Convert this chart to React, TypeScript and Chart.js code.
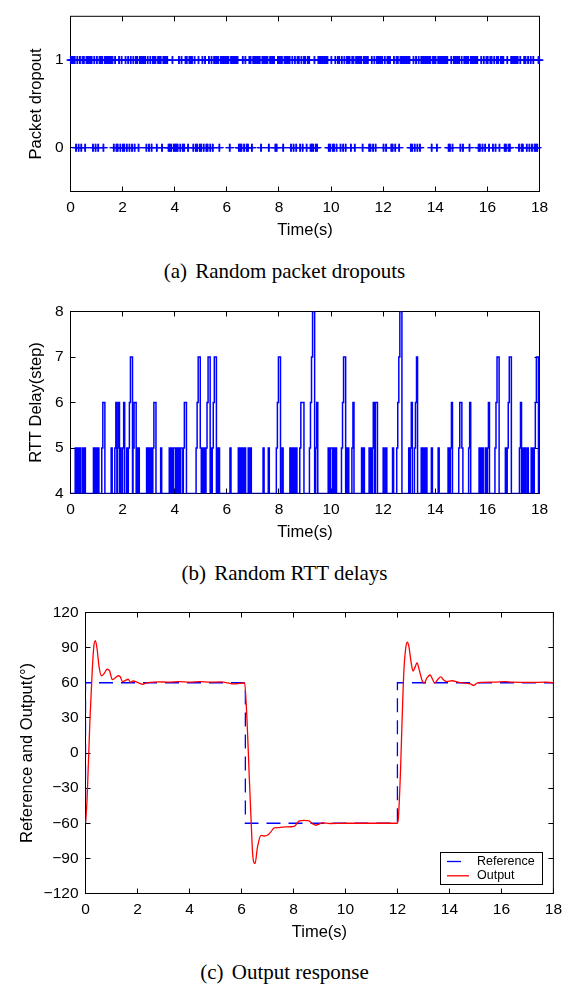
import React, { useEffect, useRef } from "react";
import { Chart, registerables } from "chart.js";

Chart.register(...registerables);

const W = 569;
const SANS = '"Liberation Sans", Arial, Helvetica, sans-serif';
const SERIF = '"Liberation Serif", "Times New Roman", Times, serif';
const BLUE = "#0000ff";
const RED = "#ff0000";

// ---------------- shared time axis ----------------
const timeMin = 0;
const timeMax = 18;
const timeTicks = [0, 2, 4, 6, 8, 10, 12, 14, 16, 18];

// ---------------- (a) packet dropouts ----------------
const dropoutSamplePeriod = 0.025;
const dropoutSlot = 0.05;
const dropoutYMin = -0.5;
const dropoutYMax = 1.5;
const dropoutYTicks = [0, 1];
// start of each 0.05 s slot in which packets were dropped (value 0); all other samples are 1
const dropoutZeroTimes = [
  0.2, 0.3, 0.4, 0.55,
  0.85, 0.95, 1.05, 1.25,
  1.65, 1.75, 1.8, 1.9, 2.0, 2.05, 2.15, 2.25, 2.35, 2.45, 2.6,
  2.9, 3.0, 3.1, 3.3, 3.5,
  3.75, 3.8, 3.85, 3.95, 4.0, 4.05, 4.1, 4.2, 4.3, 4.35, 4.5,
  4.7, 4.8, 4.85, 4.95, 5.0, 5.1, 5.2, 5.25, 5.35, 5.45, 5.7,
  6.1,
  6.45, 6.5, 6.55, 6.65, 6.75, 6.8, 6.95,
  7.3, 7.6,
  7.85, 7.9, 8.15,
  8.45, 8.55, 8.65, 8.8, 8.9, 9.05,
  9.2, 9.25, 9.3, 9.4, 9.45,
  9.9, 9.95, 10.05, 10.1, 10.2,
  10.35, 10.45, 10.55,
  10.75, 10.9,
  11.2,
  11.45, 11.5, 11.6, 11.7,
  12.0, 12.1,
  12.3, 12.35, 12.45, 12.6,
  13.05, 13.1, 13.2, 13.3, 13.4,
  13.85, 14.05,
  14.5, 14.55, 14.65,
  14.95, 15.05,
  15.3,
  15.65, 15.7, 15.8, 15.9, 16.05,
  16.2, 16.3, 16.45,
  16.65, 16.7, 16.8, 16.85,
  17.2, 17.3, 17.35, 17.5, 17.6, 17.7,
  17.8, 17.85, 17.9,
];

// ---------------- (b) RTT delays ----------------
const rttSamplePeriod = 0.04;
const rttBase = 4;
const rttYMin = 4;
const rttYMax = 8;
const rttYTicks = [4, 5, 6, 7, 8];
// start time (s) of each excursion above the base delay
const rttPulseStarts = [
  0.18, 0.27, 0.36, 0.47, 0.53, 0.88, 0.96, 1.05, 1.2, 1.56,
  1.7, 1.8, 1.9, 2.0, 2.16, 2.22, 2.4, 2.54, 2.6, 2.92,
  2.99, 3.08, 3.46, 3.79, 4.33, 4.82, 5.2, 5.38, 5.44, 5.62,
  5.68, 6.12, 6.44, 6.5, 6.56, 6.62, 6.68, 6.82, 6.9, 7.39,
  7.59, 7.9, 8.12, 8.42, 8.5, 8.57, 8.65, 8.8, 9.17, 9.41,
  9.89, 10.4, 10.58, 10.64, 10.8, 11.17, 11.24, 11.46, 11.52, 11.58,
  11.7, 12.0, 12.1, 12.36, 12.52, 12.98, 13.04, 13.2, 13.46, 13.52,
  13.58, 13.64, 13.85, 14.11, 14.49, 14.58, 14.9, 15.28, 15.68, 15.74,
  15.8, 15.92, 16.0, 16.29, 16.69, 16.76, 17.23, 17.35, 17.43, 17.53,
  17.68, 17.74, 17.8,
];
// delay (steps) of the successive samples of each excursion
const rttPulseLevels = [
  [5], [5], [5], [5], [5], [5], [5], [5], [5, 6, 6], [5],
  [5, 6], [5, 6], [5], [5, 6], [5], [5, 6, 7, 7], [5, 6, 6], [5], [5], [5],
  [5], [5, 4, 5, 6, 6], [5], [5, 4, 5, 4, 5, 5, 4, 5, 4, 5, 4, 5, 5], [5, 6, 6], [5, 6, 7, 7, 5, 4, 5, 4, 5], [5, 6, 7, 7], [5], [5, 6, 7, 7], [5],
  [5], [5], [5], [5], [5], [5], [5], [5], [5], [5],
  [5], [5, 6, 7, 7], [5], [5], [5], [5], [5], [5, 6, 6, 6], [5, 6, 7, 8, 8], [5, 6],
  [5, 4, 5, 5, 4, 5, 4, 5], [5, 6, 7, 7], [5], [5], [5, 6], [5], [5], [5], [5], [5, 6],
  [6, 6], [5], [5], [5], [5, 6, 7, 8, 8], [5], [5, 6], [5, 6, 7], [5], [5],
  [5], [5], [5], [5], [5], [5, 6], [5, 6, 6, 5], [5, 6], [5], [5],
  [5], [5], [5, 6], [5, 6, 7, 7], [5], [5, 6, 7, 7], [5, 6], [5], [5], [5],
  [5], [5], [5, 6, 7, 7],
];

// ---------------- (c) output response ----------------
const outYMin = -120;
const outYMax = 120;
const outYTicks = [-120, -90, -60, -30, 0, 30, 60, 90, 120];
const refTimes = [0, 0, 6.15, 6.15, 12, 12, 18];
const refValues = [-60, 60, 60, -60, -60, 60, 60];
const outTimes = [
  0, 0.06, 0.17, 0.26, 0.32, 0.38, 0.45, 0.52, 0.61, 0.74,
  0.83, 0.93, 1.03, 1.14, 1.25, 1.34, 1.42, 1.54, 1.64, 1.73,
  1.83, 2.02, 2.21, 2.3, 2.47, 2.8, 3.2, 3.6, 4.0, 4.4,
  4.8, 5.2, 5.54, 5.67, 5.93, 6.12, 6.18, 6.24, 6.3, 6.37,
  6.43, 6.52, 6.62, 6.75, 6.87, 7.0, 7.13, 7.26, 7.45, 7.71,
  8.03, 8.16, 8.22, 8.41, 8.6, 8.73, 8.86, 8.96, 9.11, 9.4,
  10.0, 11.0, 12.0, 12.04, 12.12, 12.18, 12.25, 12.31, 12.38, 12.44,
  12.53, 12.6, 12.69, 12.75, 12.84, 12.94, 13.03, 13.13, 13.26, 13.35,
  13.43, 13.56, 13.67, 13.78, 13.9, 14.1, 14.36, 14.62, 14.81, 14.93,
  15.06, 15.25, 15.76, 16.14, 16.4, 17.17, 17.68, 18.0,
];
const outValues = [
  -60, -40, 28, 71, 91, 96, 88, 74, 66, 68.6,
  71.7, 69.9, 62.6, 64, 66, 65, 61, 62, 63, 60.4,
  61.5, 60.1, 58.7, 59.6, 60.4, 60.8, 60.5, 60.9, 60.6, 60.9,
  60.5, 60.7, 59.6, 59, 59.5, 60, 43, 14, -20, -57,
  -86, -94.5, -80, -70.3, -70.9, -70.3, -67.4, -64, -63.7, -63.1,
  -62.6, -59.4, -58, -57.5, -58, -60.3, -61.7, -61, -59.6, -60.2,
  -60, -60, -60, -54.6, -14.6, 28.3, 71, 88, 94.6, 91,
  77, 70, 74, 77, 71, 62.6, 59.7, 64, 66.6, 63,
  59.7, 63, 65, 62.3, 61, 61.7, 60.3, 59.6, 59, 57.7,
  59.6, 60.3, 60.6, 61, 60.5, 60.3, 60.5, 60,
];

// ---------------- helpers ----------------
const fmt = (v: any) => {
  const n = Number(v);
  return n < 0 ? "\u2212" + Math.abs(n) : String(n);
};

type Box = {
  canvasTop: number;
  canvasHeight: number;
  left: number;
  right: number;
  top: number;
  bottom: number;
  yTitleX: number;
};

const boxA: Box = { canvasTop: 0, canvasHeight: 250, left: 70.5, right: 539.5, top: 9.5, bottom: 191.5, yTitleX: 36.5 };
const boxB: Box = { canvasTop: 290, canvasHeight: 260, left: 70.5, right: 539.5, top: 311.5, bottom: 493.5, yTitleX: 36.5 };
const boxC: Box = { canvasTop: 595, canvasHeight: 355, left: 85.5, right: 554.5, top: 612.5, bottom: 893.5, yTitleX: 27 };

const TICK_SIZE = 15.5;
const TITLE_SIZE = 16.5;

const framePlugin = {
  id: "matlabFrame",
  beforeDatasetsDraw(chart: any) {
    const { ctx, chartArea: a, scales } = chart;
    const tl = 5;
    const snap = (p: number) => Math.round(p - 0.5) + 0.5;
    ctx.save();
    ctx.strokeStyle = "#000";
    ctx.lineWidth = 1;
    ctx.strokeRect(a.left, a.top, a.right - a.left, a.bottom - a.top);
    ctx.beginPath();
    for (const t of scales.x.ticks) {
      const px = snap(scales.x.getPixelForValue(t.value));
      ctx.moveTo(px, a.bottom);
      ctx.lineTo(px, a.bottom - tl);
      ctx.moveTo(px, a.top);
      ctx.lineTo(px, a.top + tl);
    }
    for (const t of scales.y.ticks) {
      const py = snap(scales.y.getPixelForValue(t.value));
      ctx.moveTo(a.left, py);
      ctx.lineTo(a.left + tl, py);
      ctx.moveTo(a.right, py);
      ctx.lineTo(a.right - tl, py);
    }
    ctx.stroke();
    ctx.restore();
  },
};

const legendPlugin = {
  id: "boxLegend",
  afterDraw(chart: any) {
    const { ctx, chartArea: a } = chart;
    const x0 = Math.round(a.right - 113) + 0.5;
    const y0 = Math.round(a.bottom - 42) + 0.5;
    const w = 102;
    const h = 32;
    ctx.save();
    ctx.fillStyle = "#fff";
    ctx.fillRect(x0, y0, w, h);
    ctx.strokeStyle = "#000";
    ctx.lineWidth = 1;
    ctx.strokeRect(x0, y0, w, h);
    chart.data.datasets.forEach((ds: any, i: number) => {
      const y = y0 + 9 + i * 14.3;
      ctx.strokeStyle = ds.borderColor;
      ctx.lineWidth = ds.borderWidth;
      ctx.setLineDash(ds.borderDash || []);
      ctx.beginPath();
      ctx.moveTo(x0 + 6.5, y);
      ctx.lineTo(x0 + 28.5, y);
      ctx.stroke();
      ctx.setLineDash([]);
      ctx.fillStyle = "#000";
      ctx.font = `12.5px ${SANS}`;
      ctx.textAlign = "left";
      ctx.textBaseline = "middle";
      ctx.fillText(ds.label, x0 + 36.5, y);
    });
    ctx.restore();
  },
};

function makeOptions(box: Box, yTitle: string, yMin: number, yMax: number, yTicks: number[]) {
  const tickFont = { family: SANS, size: TICK_SIZE };
  const titleFont = { family: SANS, size: TITLE_SIZE };
  const titleLH = TITLE_SIZE * 1.2;
  const xAxisH = box.canvasTop + box.canvasHeight - box.bottom;
  return {
    animation: false,
    responsive: false,
    maintainAspectRatio: false,
    events: [],
    layout: {
      padding: { left: 0, top: box.top - box.canvasTop, right: W - box.right, bottom: 0 },
    },
    plugins: {
      legend: { display: false },
      tooltip: { enabled: false },
    },
    scales: {
      x: {
        type: "linear",
        min: timeMin,
        max: timeMax,
        afterBuildTicks: (s: any) => {
          s.ticks = timeTicks.map((v) => ({ value: v }));
        },
        ticks: { color: "#000", font: tickFont, padding: 7, maxRotation: 0, autoSkip: false, callback: fmt },
        grid: { display: false, drawTicks: false },
        border: { display: false },
        title: {
          display: true,
          text: "Time(s)",
          color: "#000",
          font: titleFont,
          padding: { top: 0, bottom: xAxisH - titleLH / 2 - 38.5 },
        },
        afterFit: (s: any) => {
          s.height = xAxisH;
        },
      },
      y: {
        type: "linear",
        min: yMin,
        max: yMax,
        afterBuildTicks: (s: any) => {
          s.ticks = yTicks.map((v) => ({ value: v }));
        },
        ticks: { color: "#000", font: tickFont, padding: 7, autoSkip: false, callback: fmt },
        grid: { display: false, drawTicks: false },
        border: { display: false },
        title: {
          display: true,
          text: yTitle,
          color: "#000",
          font: titleFont,
          padding: { top: box.yTitleX - titleLH / 2, bottom: 0 },
        },
        afterFit: (s: any) => {
          s.width = box.left;
        },
      },
    },
  };
}

function configA() {
  const n = Math.round((timeMax - timeMin) / dropoutSamplePeriod);
  const eps = 1e-6;
  const pts: { x: number; y: number }[] = [];
  for (let i = 0; i <= n; i++) {
    const t = timeMin + i * dropoutSamplePeriod;
    const dropped = dropoutZeroTimes.some((z) => t >= z - eps && t < z + dropoutSlot - eps);
    pts.push({ x: t, y: dropped ? 0 : 1 });
  }
  return {
    type: "scatter",
    data: {
      datasets: [
        {
          label: "Packet dropout",
          data: pts,
          pointStyle: "cross",
          pointRadius: 4,
          pointHoverRadius: 4,
          pointBorderWidth: 1.2,
          pointBorderColor: BLUE,
          pointBackgroundColor: BLUE,
          borderColor: BLUE,
          backgroundColor: BLUE,
          showLine: false,
          clip: false,
        },
      ],
    },
    options: makeOptions(boxA, "Packet dropout", dropoutYMin, dropoutYMax, dropoutYTicks),
    plugins: [framePlugin],
  };
}

function configB() {
  const pts: { x: number; y: number }[] = [{ x: timeMin, y: rttBase }];
  rttPulseStarts.forEach((t0, k) => {
    const lv = rttPulseLevels[k];
    lv.forEach((v, j) => pts.push({ x: +(t0 + j * rttSamplePeriod).toFixed(3), y: v }));
    pts.push({ x: +(t0 + lv.length * rttSamplePeriod).toFixed(3), y: rttBase });
  });
  pts.push({ x: timeMax, y: rttBase });
  return {
    type: "line",
    data: {
      datasets: [
        {
          label: "RTT Delay",
          data: pts,
          stepped: true,
          borderColor: BLUE,
          borderWidth: 1.5,
          pointRadius: 0,
          fill: false,
        },
      ],
    },
    options: makeOptions(boxB, "RTT Delay(step)", rttYMin, rttYMax, rttYTicks),
    plugins: [framePlugin],
  };
}

function configC() {
  return {
    type: "line",
    data: {
      datasets: [
        {
          label: "Reference",
          data: refTimes.map((t, i) => ({ x: t, y: refValues[i] })),
          borderColor: BLUE,
          borderWidth: 1.3,
          borderDash: [14, 8],
          pointRadius: 0,
          tension: 0,
          fill: false,
          order: 2,
        },
        {
          label: "Output",
          data: outTimes.map((t, i) => ({ x: t, y: outValues[i] })),
          borderColor: RED,
          borderWidth: 1.3,
          pointRadius: 0,
          cubicInterpolationMode: "monotone",
          fill: false,
          order: 1,
        },
      ],
    },
    options: makeOptions(boxC, "Reference and Output(\u00b0)", outYMin, outYMax, outYTicks),
    plugins: [framePlugin, legendPlugin],
  };
}

function ChartCanvas({ box, make }: { box: Box; make: () => any }) {
  const ref = useRef<HTMLCanvasElement | null>(null);
  useEffect(() => {
    if (!ref.current) return;
    const chart = new Chart(ref.current, make());
    return () => chart.destroy();
  }, []);
  return (
    <canvas
      ref={ref}
      width={W}
      height={box.canvasHeight}
      style={{ position: "absolute", left: 0, top: box.canvasTop, width: W, height: box.canvasHeight, display: "block" }}
    />
  );
}

function Caption({ centerY, label, text }: { centerY: number; label: string; text: string }) {
  return (
    <div
      style={{
        position: "absolute",
        left: 0,
        top: centerY - 13,
        width: W,
        height: 26,
        lineHeight: "26px",
        textAlign: "center",
        fontFamily: SERIF,
        fontSize: 21,
        color: "#000",
        whiteSpace: "nowrap",
      }}
    >
      <span style={{ marginRight: 3 }}>{label}</span> {text}
    </div>
  );
}

export default function App() {
  return (
    <div style={{ position: "absolute", left: 0, top: 0, width: W, height: 984, background: "#fff", overflow: "hidden" }}>
      <ChartCanvas box={boxA} make={configA} />
      <Caption centerY={271} label="(a)" text="Random packet dropouts" />
      <ChartCanvas box={boxB} make={configB} />
      <Caption centerY={572.5} label="(b)" text="Random RTT delays" />
      <ChartCanvas box={boxC} make={configC} />
      <Caption centerY={972} label="(c)" text="Output response" />
    </div>
  );
}
